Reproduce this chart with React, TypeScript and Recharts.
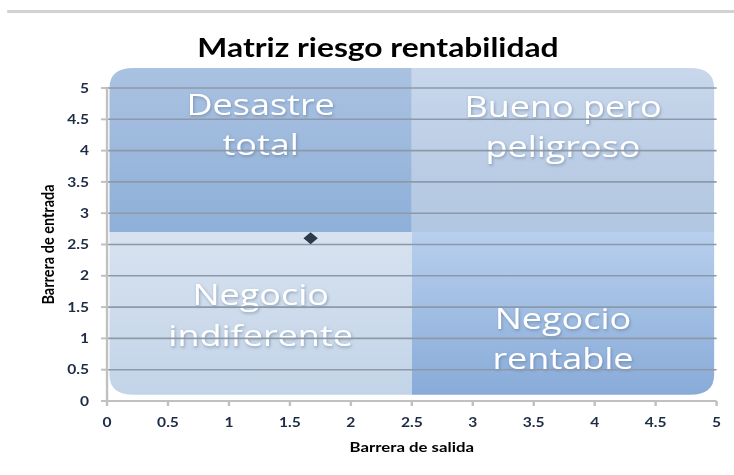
import { ScatterChart, Scatter, XAxis, YAxis, ReferenceArea, ReferenceLine } from 'recharts'

// axis ticks (both axes run 0..5 in steps of 0.5)
const X_TICKS = [0, 0.5, 1, 1.5, 2, 2.5, 3, 3.5, 4, 4.5, 5]
const Y_TICKS = [0, 0.5, 1, 1.5, 2, 2.5, 3, 3.5, 4, 4.5, 5]

// the single plotted company
const POINTS = [{ x: 1.67, y: 2.6 }]

// quadrant split of the matrix overlay
const SPLIT_X = 2.5
const SPLIT_Y = 2.7

const QUADRANT_NAMES = [
  ['Desastre', 'total'],
  ['Bueno pero', 'peligroso'],
  ['Negocio', 'indiferente'],
  ['Negocio', 'rentable'],
]

// the original picture is stretched sideways, so the whole chart is drawn narrower and scaled
const STRETCH = 1.2
const W = 734 / STRETCH

// overlay extents + look (kept apart from the data)
const BOX = { left: 0.02, right: 4.98, top: 5.32, bottom: 0.1 }
const QUAD_STYLE = [
  { grad: 'gTL', corners: [1, 0, 0, 0], base: [47, 87], from: '#aac2e1', to: '#8eafd8' },
  { grad: 'gTR', corners: [0, 1, 0, 0], base: [49, 89], from: '#c8d7eb', to: '#b1c6e1' },
  { grad: 'gBL', corners: [0, 0, 0, 1], base: [73, 114], from: '#d7e2ef', to: '#c3d4e8' },
  { grad: 'gBR', corners: [0, 0, 1, 0], base: [97, 137], from: '#b8cfee', to: '#88abd8' },
]

const FONT = 'Lato, "Open Sans", sans-serif'

const roundedPath = (x: number, y: number, w: number, h: number, r: number, c: number[]) => {
  const a = c[0] ? r : 0
  const b = c[1] ? r : 0
  const d = c[2] ? r : 0
  const e = c[3] ? r : 0
  return [
    `M${x + a},${y}`,
    `H${x + w - b}`,
    b ? `Q${x + w},${y} ${x + w},${y + b}` : '',
    `V${y + h - d}`,
    d ? `Q${x + w},${y + h} ${x + w - d},${y + h}` : '',
    `H${x + e}`,
    e ? `Q${x},${y + h} ${x},${y + h - e}` : '',
    `V${y + a}`,
    a ? `Q${x},${y} ${x + a},${y}` : '',
    'Z',
  ].join(' ')
}

const boxShape = (idx: number) => (props: any) => {
  const { x, y, width, height } = props
  const s = QUAD_STYLE[idx]
  return <path d={roundedPath(x, y, width, height, 20, s.corners)} fill={`url(#${s.grad})`} stroke="none" />
}

const QuadLabel = (props: any) => {
  const { viewBox, idx } = props
  if (!viewBox) return null
  const s = QUAD_STYLE[idx]
  const cx = viewBox.x + viewBox.width / 2
  return (
    <g filter="url(#txtShadow)">
      {QUADRANT_NAMES[idx].map((t, i) => (
        <text
          key={i}
          x={cx}
          y={viewBox.y + s.base[i]}
          textAnchor="middle"
          fill="#ffffff"
          fontSize={30}
          fontFamily='"Open Sans", sans-serif'
        >
          {t}
        </text>
      ))}
    </g>
  )
}

const Diamond = (props: any) => {
  const { cx, cy } = props
  const hw = 6
  const hh = 6
  return <path d={`M${cx},${cy - hh} L${cx + hw},${cy} L${cx},${cy + hh} L${cx - hw},${cy} Z`} fill="#2c3a4c" />
}

const quadBounds = [
  { x1: BOX.left, x2: SPLIT_X, y1: SPLIT_Y, y2: BOX.top },
  { x1: SPLIT_X, x2: BOX.right, y1: SPLIT_Y, y2: BOX.top },
  { x1: BOX.left, x2: SPLIT_X, y1: BOX.bottom, y2: SPLIT_Y },
  { x1: SPLIT_X, x2: BOX.right, y1: BOX.bottom, y2: SPLIT_Y },
]

export default function App() {
  const tick = { fill: '#1d2c44', fontSize: 13, fontWeight: 700, fontFamily: FONT }
  return (
    <div style={{ position: 'absolute', left: 0, top: 0, width: 734, height: 475, background: '#fff', overflow: 'hidden' }}>
      <div
        style={{
          position: 'absolute',
          left: 0,
          top: 0,
          width: W,
          height: 475,
          transform: `scaleX(${STRETCH})`,
          transformOrigin: '0 0',
        }}
      >
        {/* sheet border at the top */}
        <div style={{ position: 'absolute', left: 6, top: 10, width: 606, height: 3, background: '#d2d2d2' }} />
        <div
          style={{
            position: 'absolute',
            left: 0,
            top: 31,
            width: 630,
            textAlign: 'center',
            fontFamily: FONT,
            fontWeight: 700,
            fontSize: 26.5,
            color: '#000',
          }}
        >
          Matriz riesgo rentabilidad
        </div>
        <ScatterChart width={W} height={475} margin={{ top: 88, right: 14.5, bottom: 44, left: 30 }}>
          <defs>
            {QUAD_STYLE.map((s) => (
              <linearGradient key={s.grad} id={s.grad} x1="0" y1="0" x2="0" y2="1">
                <stop offset="0%" stopColor={s.from} />
                <stop offset="100%" stopColor={s.to} />
              </linearGradient>
            ))}
            <filter id="txtShadow" x="-20%" y="-20%" width="140%" height="140%">
              <feDropShadow dx="0.8" dy="1.5" stdDeviation="1.5" floodColor="#4a6480" floodOpacity="0.5" />
            </filter>
          </defs>
          <XAxis
            type="number"
            dataKey="x"
            domain={[0, 5]}
            ticks={X_TICKS}
            interval={0}
            height={30}
            axisLine={{ stroke: '#c0c0c0', strokeWidth: 2 }}
            tickLine={{ stroke: '#c0c0c0', strokeWidth: 2 }}
            tickSize={5}
            tickMargin={12}
            tick={tick}
            label={{
              value: 'Barrera de salida',
              position: 'bottom',
              offset: 11,
              style: { fontFamily: FONT, fontWeight: 700, fontSize: 14, fill: '#000' },
            }}
          />
          <YAxis
            type="number"
            dataKey="y"
            domain={[0, 5]}
            ticks={Y_TICKS}
            interval={0}
            width={59.2}
            axisLine={{ stroke: '#c0c0c0', strokeWidth: 2 }}
            tickLine={{ stroke: '#c0c0c0', strokeWidth: 2 }}
            tickSize={5}
            tickMargin={10}
            tick={tick}
            label={{
              value: 'Barrera de entrada',
              angle: -90,
              position: 'insideLeft',
              offset: 10,
              style: { textAnchor: 'middle', fontFamily: FONT, fontWeight: 700, fontSize: 14.5, fill: '#000' },
            }}
          />
          {quadBounds.map((b, i) => (
            <ReferenceArea key={`box${i}`} {...b} ifOverflow="visible" shape={boxShape(i)} />
          ))}
          {Y_TICKS.filter((v) => v > 0).map((v) => (
            <ReferenceLine key={`g${v}`} y={v} stroke="#8d99a8" strokeWidth={1.6} ifOverflow="visible" />
          ))}
          {quadBounds.map((b, i) => (
            <ReferenceArea
              key={`lbl${i}`}
              {...b}
              ifOverflow="visible"
              fillOpacity={0}
              strokeOpacity={0}
              label={<QuadLabel idx={i} />}
            />
          ))}
          <Scatter data={POINTS} shape={<Diamond />} isAnimationActive={false} />
        </ScatterChart>
      </div>
    </div>
  )
}
